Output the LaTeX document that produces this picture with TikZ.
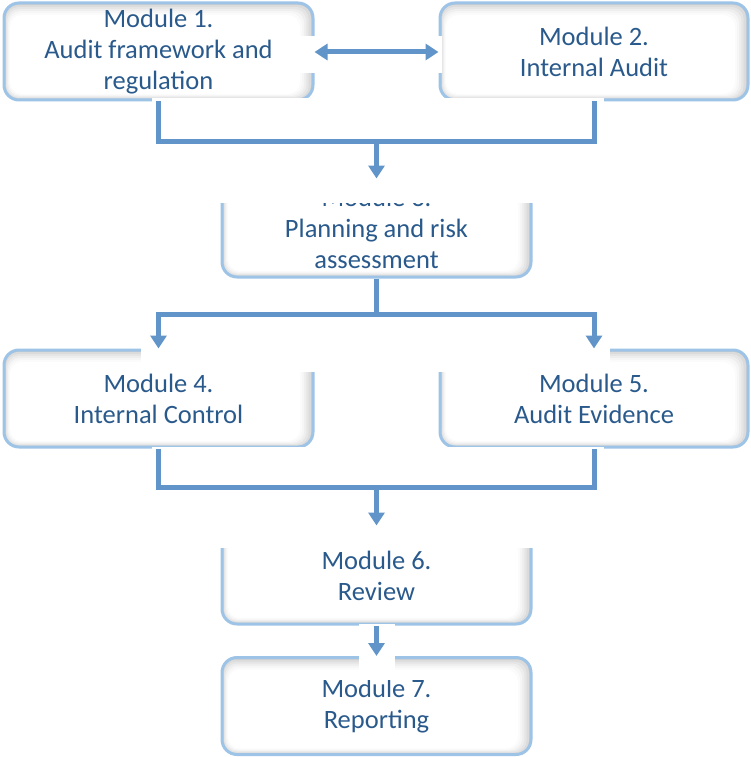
\documentclass[tikz,border=0pt]{standalone}
\usepackage{fontspec}
\setmainfont{Carlito}
\usetikzlibrary{arrows.meta}
\definecolor{txtblue}{HTML}{2A5A8C}
\definecolor{bordblue}{HTML}{9DC3E6}
\definecolor{arrblue}{HTML}{6195C9}
\tikzset{
  modbox/.style={draw=bordblue, line width=3pt, rounded corners=15pt,
    fill=gray!38, text=txtblue, align=center,
    font=\fontsize{26.5}{31}\selectfont,
    path picture={
      \foreach \k/\c in {2/28,4/20,6/13,8/7,10/3,12/0}{
        \fill[gray!\c, rounded corners=12pt]
          ([shift={(0.5*\k pt,0.5*\k pt)}]path picture bounding box.south west)
          rectangle
          ([shift={(-1.1*\k pt,-1.0*\k pt)}]path picture bounding box.north east);
      }
    }},
  conn/.style={draw=arrblue, line width=5pt},
  tip/.style={-{Triangle[width=16pt,length=13pt]}},
  mask/.style={fill=white, draw=none}
}
\begin{document}
\begin{tikzpicture}[x=1pt,y=-1pt]
\useasboundingbox (0,0) rectangle (750,757);
% boxes
\node[modbox, minimum width=309pt, minimum height=97pt] (b1) at (158.5,51.5) {Module 1.\\Audit framework and\\regulation};
\node[modbox, minimum width=308pt, minimum height=97pt] (b2) at (594,51.5) {Module 2.\\Internal Audit};
\node[modbox, minimum width=309pt, minimum height=97pt] (b3) at (376.5,228.5) {Module 3.\\Planning and risk\\assessment};
\node[modbox, minimum width=309pt, minimum height=97pt] (b4) at (158.5,398.5) {Module 4.\\Internal Control};
\node[modbox, minimum width=308pt, minimum height=97pt] (b5) at (594,398.5) {Module 5.\\Audit Evidence};
\node[modbox, minimum width=309pt, minimum height=97pt] (b6) at (376.5,575.5) {Module 6.\\Review};
\node[modbox, minimum width=309pt, minimum height=97pt] (b7) at (376.5,706) {Module 7.\\Reporting};
% white masks round the connectors
\fill[mask] (297,36) rectangle (442,73);
\fill[mask] (152,98) rectangle (604,203);
\fill[mask] (141,279) rectangle (610,372);
\fill[mask] (152,447) rectangle (604,548);
\fill[mask] (359,624) rectangle (395,680);
% junction coordinates
\coordinate (j1) at (376.5,141);
\coordinate (j2) at (376.5,314);
\coordinate (j3) at (376.5,487);
% connectors
\draw[conn, {Triangle[width=16pt,length=13pt]}-{Triangle[width=16pt,length=13pt]}] (b1.east |- 0,52) -- (b2.west |- 0,52);
\draw[conn] (b1.south) |- (j1);
\draw[conn] (b2.south) |- (j1);
\draw[conn, tip] (j1) -- (b3.north);
\draw[conn] (b3.south) -- (j2);
\draw[conn, tip] (j2) -| (b4.north);
\draw[conn, tip] (j2) -| (b5.north);
\draw[conn] (b4.south) |- (j3);
\draw[conn] (b5.south) |- (j3);
\draw[conn, tip] (j3) -- (b6.north);
\draw[conn, tip] (b6.south) -- (b7.north);
\end{tikzpicture}
\end{document}
